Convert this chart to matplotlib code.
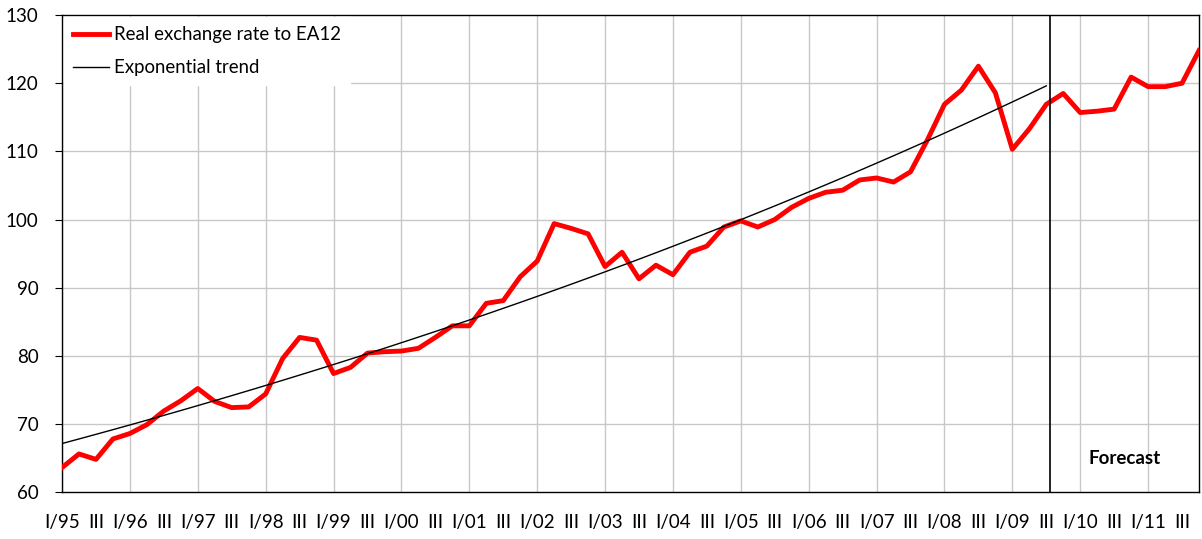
import matplotlib
matplotlib.use("Agg")
import matplotlib.pyplot as plt
import numpy as np

plt.rcParams['font.family'] = ['Lato', 'DejaVu Sans']

# quarterly real exchange rate, I/95 .. IV/11
rate = [63.6, 65.6, 64.8, 67.8, 68.6, 69.9, 71.9, 73.4,
        75.2, 73.3, 72.4, 72.5, 74.4, 79.6, 82.7, 82.3,
        77.4, 78.3, 80.4, 80.6, 80.7, 81.1, 82.7, 84.4,
        84.4, 87.7, 88.1, 91.6, 93.9, 99.4, 98.7, 97.9,
        93.1, 95.2, 91.3, 93.3, 91.9, 95.2, 96.1, 98.9,
        99.8, 98.9, 100.0, 101.8, 103.1, 104.0, 104.3, 105.8,
        106.1, 105.5, 107.0, 111.7, 116.9, 119.0, 122.5, 118.6,
        110.3, 113.3, 116.9, 118.5, 115.7, 115.9, 116.2, 120.9,
        119.5, 119.5, 120.0, 124.8]
years = ['95', '96', '97', '98', '99', '00', '01', '02', '03',
         '04', '05', '06', '07', '08', '09', '10', '11']
trend_end = 58      # last quarter used for the trend (III/09)
forecast_at = 58.2  # position of the forecast divider

x = np.arange(len(rate))
# exponential trend fitted on the history
coef = np.polyfit(x[:trend_end + 1], np.log(rate[:trend_end + 1]), 1)
trend = np.exp(np.polyval(coef, x[:trend_end + 1]))

fig = plt.figure(figsize=(12.02, 5.39), dpi=100)
ax = fig.add_axes([0.0516, 0.087, 0.9459, 0.885])

for i in range(0, len(rate), 4):
    ax.axvline(i, color='#c8c8c8', lw=1, zorder=0)
for v in range(70, 130, 10):
    ax.axhline(v, color='#c8c8c8', lw=1, zorder=0)

ax.plot(x, rate, color='#ff0000', lw=3.5, label='Real exchange rate to EA12', zorder=3)
ax.plot(x[:trend_end + 1], trend, color='black', lw=1, label='Exponential trend', zorder=4)
ax.axvline(forecast_at, color='black', lw=1.2, zorder=5)
ax.text(62.6, 65.0, 'Forecast', fontsize=13.5, fontweight='bold', ha='center', va='center')

ax.set_xlim(0, len(rate) - 1)
ax.set_ylim(60, 130)
ax.set_yticks(range(60, 131, 10))
ticks = list(range(0, len(rate), 2))
labels = []
for t in ticks:
    labels.append('I/' + years[t // 4] if t % 4 == 0 else 'III')
ax.set_xticks(ticks)
ax.set_xticklabels(labels)
ax.tick_params(axis='x', length=0, pad=16, labelsize=13.5)
ax.tick_params(axis='y', length=5, pad=12, labelsize=13.5, direction='out')
for s in ax.spines.values():
    s.set_color('black')
    s.set_linewidth(1)

leg = ax.legend(loc='upper left', bbox_to_anchor=(0, 1), borderaxespad=0.1,
                fontsize=13.4, frameon=True, fancybox=False, framealpha=1,
                edgecolor='white', handlelength=1.9, handletextpad=0.3,
                labelspacing=0.85, borderpad=0.5)
leg.set_zorder(10)

plt.savefig('out.png', dpi=100)
